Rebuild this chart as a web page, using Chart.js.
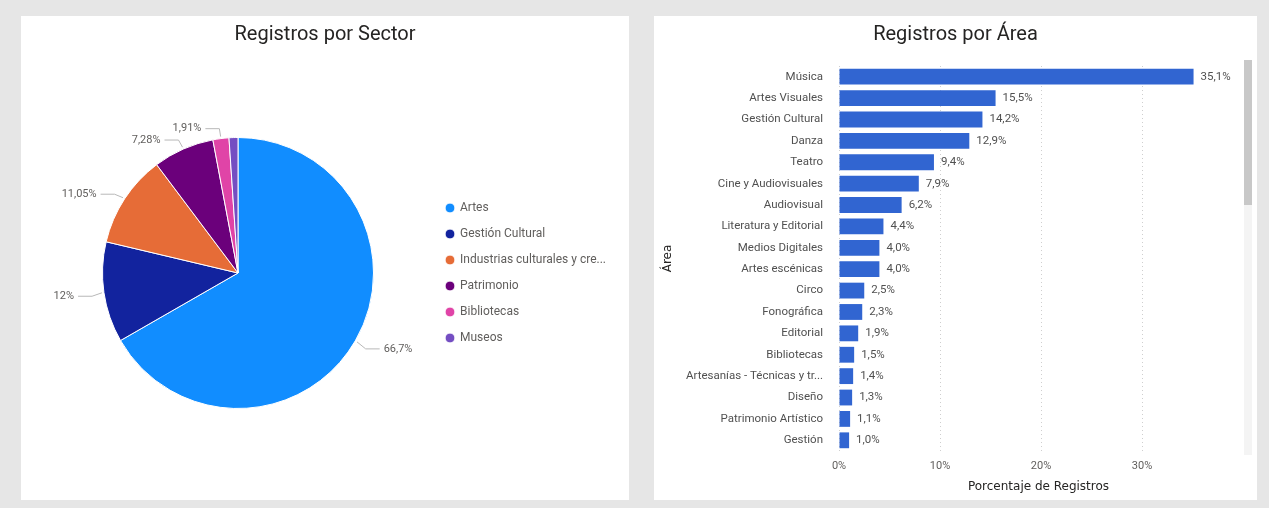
<!DOCTYPE html>
<html lang="es">
<head>
<meta charset="utf-8">
<title>Registros por Sector y Área</title>
<script src="https://cdn.jsdelivr.net/npm/chart.js@4.4.1/dist/chart.umd.min.js"></script>
<style>
  html, body { margin: 0; padding: 0; }
  body { width: 1269px; height: 508px; background: #e6e6e6; position: relative; overflow: hidden; }
  .panel { position: absolute; background: #fff; }
  #panelSector { left: 21px; top: 16px; width: 608px; height: 484px; }
  #panelArea { left: 654px; top: 16px; width: 603px; height: 484px; }
  .panel canvas { position: absolute; left: 0; top: 0; }
  /* barra de desplazamiento del visual de Power BI */
  .scroll-track { position: absolute; left: 590px; top: 44px; width: 8px; height: 395px; background: #f4f4f4; }
  .scroll-thumb { position: absolute; left: 590px; top: 44px; width: 8px; height: 145px; background: #c8c8c8; }
</style>
</head>
<body>
<div class="panel" id="panelSector">
  <canvas id="graficoSector" width="608" height="484"></canvas>
</div>
<div class="panel" id="panelArea">
  <canvas id="graficoArea" width="603" height="484"></canvas>
  <div class="scroll-track"></div>
  <div class="scroll-thumb"></div>
</div>
<script>
// ─── Datos: registros por sector (porcentaje) ───
const sectores = ['Artes', 'Gestión Cultural', 'Industrias culturales y creativas', 'Patrimonio', 'Bibliotecas', 'Museos'];
const sectorPct = [66.7, 12, 11.05, 7.28, 1.91, 1.06];
const sectorColores = ['#118DFF', '#12239E', '#E66C37', '#6B007B', '#E044A7', '#744EC2'];

// ─── Datos: registros por área (porcentaje) ───
const areas = [
  'Música', 'Artes Visuales', 'Gestión Cultural', 'Danza', 'Teatro',
  'Cine y Audiovisuales', 'Audiovisual', 'Literatura y Editorial', 'Medios Digitales',
  'Artes escénicas', 'Circo', 'Fonográfica', 'Editorial', 'Bibliotecas',
  'Artesanías - Técnicas y tradiciones', 'Diseño', 'Patrimonio Artístico', 'Gestión'
];
const areaPct = [35.1, 15.5, 14.2, 12.9, 9.4, 7.9, 6.2, 4.4, 4.0, 4.0, 2.5, 2.3, 1.9, 1.5, 1.4, 1.3, 1.1, 1.0];
const ejeX = [0, 10, 20, 30];

const FUENTE = "'Segoe UI', Roboto, sans-serif";
const GRIS = '#605e5c';

// formato con coma decimal, como en el informe
function pct(v, dec) {
    const s = dec == null ? String(v) : v.toFixed(dec);
    return s.replace('.', ',') + '%';
}

// Power BI recorta los textos largos con "..."
function recortar(txt, max) {
    return txt.length > max ? txt.slice(0, max) + '...' : txt;
}

// ─── Etiquetas con línea guía para la torta ───
const etiquetasSector = {
    id: 'etiquetasSector',
    afterDatasetsDraw(chart) {
        const ctx = chart.ctx;
        const arcs = chart.getDatasetMeta(0).data;
        ctx.save();
        ctx.font = '11px ' + FUENTE;
        ctx.fillStyle = GRIS;
        ctx.strokeStyle = '#b8b8b8';
        ctx.lineWidth = 1;
        ctx.textBaseline = 'middle';
        arcs.forEach((arc, i) => {
            const v = sectorPct[i];
            if (v < 1.5) return; // porciones muy chicas sin etiqueta
            const p = arc.getProps(['x', 'y', 'startAngle', 'endAngle', 'outerRadius'], true);
            const a = (p.startAngle + p.endAngle) / 2;
            const lado = Math.cos(a) >= 0 ? 1 : -1;
            const x0 = p.x + Math.cos(a) * (p.outerRadius + 2);
            const y0 = p.y + Math.sin(a) * (p.outerRadius + 2);
            const x1 = p.x + Math.cos(a) * (p.outerRadius + 12);
            const y1 = p.y + Math.sin(a) * (p.outerRadius + 12) + 2;
            const x2 = x1 + lado * 14;
            ctx.beginPath();
            ctx.moveTo(x0, y0);
            ctx.lineTo(x1, y1);
            ctx.lineTo(x2, y1);
            ctx.stroke();
            ctx.textAlign = lado > 0 ? 'left' : 'right';
            ctx.fillText(pct(v), x2 + lado * 4, y1);
        });
        ctx.restore();
    }
};

// ─── Etiquetas de valor al final de cada barra ───
const etiquetasArea = {
    id: 'etiquetasArea',
    afterDatasetsDraw(chart) {
        const ctx = chart.ctx;
        const bars = chart.getDatasetMeta(0).data;
        ctx.save();
        ctx.font = '11.5px ' + FUENTE;
        ctx.fillStyle = '#505050';
        ctx.textAlign = 'left';
        ctx.textBaseline = 'middle';
        bars.forEach((bar, i) => {
            ctx.fillText(pct(areaPct[i], 1), bar.x + 7, bar.y);
        });
        ctx.restore();
    }
};

// ─── Torta: Registros por Sector ───
new Chart(document.getElementById('graficoSector'), {
    type: 'pie',
    data: {
        labels: sectores,
        datasets: [{
            data: sectorPct,
            backgroundColor: sectorColores,
            borderColor: '#ffffff',
            borderWidth: 1
        }]
    },
    options: {
        responsive: false,
        animation: false,
        layout: { padding: { left: 23, right: 23, top: 0, bottom: 91 } },
        plugins: {
            title: {
                display: true,
                text: 'Registros por Sector',
                color: '#252423',
                font: { family: FUENTE, size: 20, weight: 'normal' },
                padding: { top: 7, bottom: 90 }
            },
            legend: {
                position: 'right',
                align: 'center',
                fullSize: false,
                maxWidth: 174,
                labels: {
                    usePointStyle: true,
                    pointStyle: 'circle',
                    boxWidth: 8,
                    boxHeight: 7,
                    padding: 14,
                    color: GRIS,
                    font: { family: FUENTE, size: 12 },
                    generateLabels(chart) {
                        const items = Chart.overrides.doughnut.plugins.legend.labels.generateLabels(chart);
                        items.forEach(it => { it.text = recortar(it.text, 27); });
                        return items;
                    }
                }
            },
            tooltip: { enabled: false }
        }
    },
    plugins: [etiquetasSector]
});

// ─── Barras horizontales: Registros por Área ───
new Chart(document.getElementById('graficoArea'), {
    type: 'bar',
    data: {
        labels: areas,
        datasets: [{
            data: areaPct,
            backgroundColor: '#3165d1',
            borderWidth: 0,
            categoryPercentage: 1,
            barPercentage: 0.74
        }]
    },
    options: {
        indexAxis: 'y',
        responsive: false,
        animation: false,
        layout: { padding: { left: 19, right: 19, top: 0, bottom: 2 } },
        scales: {
            x: {
                min: 0,
                max: 39.5,
                afterBuildTicks: s => { s.ticks = ejeX.map(v => ({ value: v })); },
                afterFit: s => { s.height = 47; },
                grid: { color: '#cfcfcf', drawTicks: false },
                border: { display: false, dash: [1, 3] },
                ticks: {
                    padding: 9,
                    color: GRIS,
                    font: { family: FUENTE, size: 11 },
                    callback: v => v + '%'
                },
                title: {
                    display: true,
                    text: 'Porcentaje de Registros',
                    color: '#252423',
                    font: { family: 'DejaVu Sans', size: 12 },
                    padding: { top: 0, bottom: 4 }
                }
            },
            y: {
                afterFit: s => { s.width = 166; },
                grid: { display: false },
                border: { display: false },
                ticks: {
                    autoSkip: false,
                    padding: 8,
                    color: '#505050',
                    font: { family: FUENTE, size: 11.5 },
                    callback(v) { return recortar(this.getLabelForValue(v), 26); }
                },
                title: {
                    display: true,
                    text: 'Área',
                    color: '#252423',
                    font: { family: 'DejaVu Sans', size: 12 },
                    padding: { top: -12, bottom: 0 }
                }
            }
        },
        plugins: {
            title: {
                display: true,
                text: 'Registros por Área',
                color: '#252423',
                font: { family: FUENTE, size: 20, weight: 'normal' },
                padding: { top: 7, bottom: 19 }
            },
            legend: { display: false },
            tooltip: { enabled: false }
        }
    },
    plugins: [etiquetasArea]
});
</script>
</body>
</html>
